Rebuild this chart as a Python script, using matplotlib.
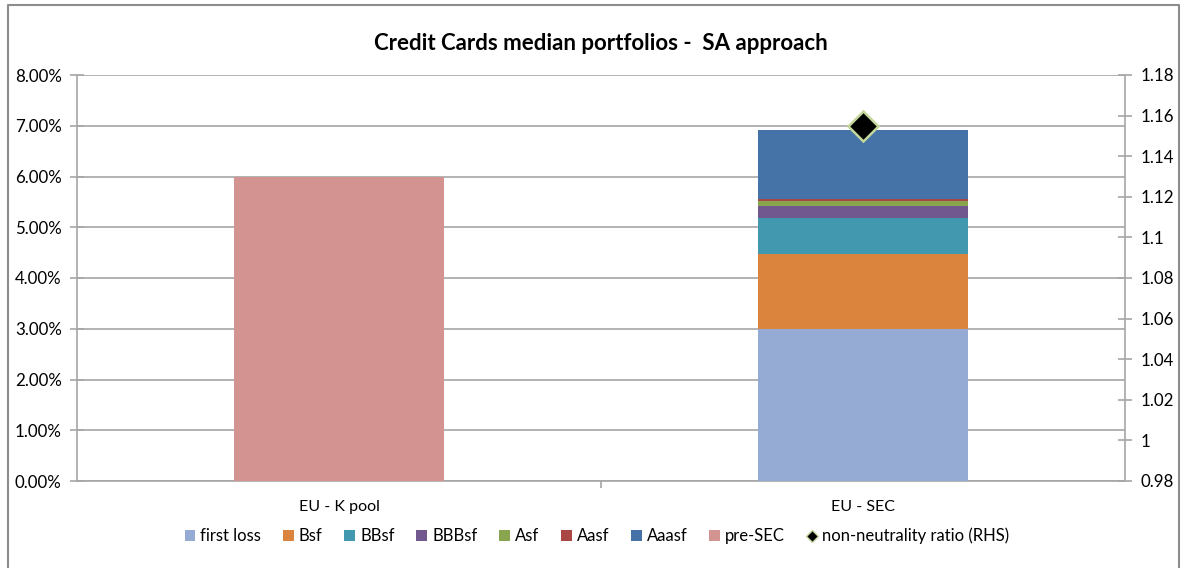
import matplotlib.pyplot as plt
from matplotlib.lines import Line2D
from matplotlib.patches import Patch
from matplotlib.ticker import FuncFormatter, MultipleLocator

plt.rcParams['font.family'] = ['Lato', 'DejaVu Sans']

# data (percent of pool)
categories = ["EU - K pool", "EU - SEC"]
tranches = ["first loss", "Bsf", "BBsf", "BBBsf", "Asf", "Aasf", "Aaasf"]
sec_values = [3.00, 1.47, 0.71, 0.24, 0.10, 0.04, 1.36]
pre_sec = [6.00, 0.0]
ratio = 1.155

colors = ["#95abd3", "#db843d", "#4198af", "#71588f", "#89a54e", "#aa4643", "#4572a7"]
pre_color = "#d29391"
grid_col = "#a6a6a6"

fig = plt.figure(figsize=(11.84, 5.68), dpi=100)
ax = fig.add_axes([77 / 1184, 1 - 481 / 568, 1048 / 1184, 406 / 568])
ax2 = ax.twinx()

x = [0, 1]
width = 0.40

# pre-SEC bar on K pool
ax.bar(x[0], pre_sec[0], width, color=pre_color, zorder=3)

# stacked SEC bar
bottom = 0.0
for name, val, col in zip(tranches, sec_values, colors):
    ax.bar(x[1], val, width, bottom=bottom, color=col, zorder=3)
    bottom += val

ax.set_xlim(-0.5, 1.5)
ax.set_ylim(0, 8)
ax.yaxis.set_major_locator(MultipleLocator(1))
ax.yaxis.set_major_formatter(FuncFormatter(lambda v, p: f"{v:.2f}%"))
ax.yaxis.grid(True, color=grid_col, linewidth=1.2, zorder=0)
ax.set_axisbelow(True)
ax.set_xticks(x)
ax.set_xticklabels(categories)
ax.set_xticks([0.5], minor=True)
ax.tick_params(axis='x', which='major', length=0, pad=14, labelsize=11.5)
ax.tick_params(axis='x', which='minor', length=5, width=1.2, color=grid_col)
ax.tick_params(axis='y', direction='inout', length=10, width=1.2, color=grid_col,
               labelsize=12.2, pad=6)

for side in ["top", "right"]:
    ax.spines[side].set_visible(False)
    ax2.spines[side].set_visible(False)
ax.spines["left"].set_color(grid_col)
ax.spines["bottom"].set_color(grid_col)
ax.spines["left"].set_linewidth(1.2)
ax.spines["bottom"].set_linewidth(1.2)
ax2.spines["left"].set_visible(False)
ax2.spines["bottom"].set_visible(False)
ax2.spines["right"].set_visible(True)
ax2.spines["right"].set_color(grid_col)
ax2.spines["right"].set_linewidth(1.2)

# right hand side ratio
ax2.set_ylim(0.98, 1.18)
ax2.yaxis.set_major_locator(MultipleLocator(0.02))
ax2.yaxis.set_major_formatter(FuncFormatter(lambda v, p: f"{round(v, 2):g}"))
ax2.tick_params(axis='y', direction='inout', length=10, width=1.2, color=grid_col,
                labelsize=12.2, pad=6)
ax2.plot([x[1]], [ratio], marker='D', markersize=15, markerfacecolor='black',
         markeredgecolor='#c3d69b', markeredgewidth=1.8, linestyle='none', zorder=5)

ax.set_title("Credit Cards median portfolios -  SA approach", fontsize=16,
             fontweight='bold', pad=18)

handles = [Patch(facecolor=c, label=n) for n, c in zip(tranches, colors)]
handles.append(Patch(facecolor=pre_color, label="pre-SEC"))
handles.append(Line2D([], [], marker='D', color='none', markerfacecolor='black',
                      markeredgecolor='#c3d69b', markersize=6,
                      label="non-neutrality ratio (RHS)"))
fig.legend(handles=handles, loc='center', bbox_to_anchor=(597 / 1184, 1 - 536 / 568),
           ncol=9, frameon=False, fontsize=12, handlelength=0.65, handleheight=0.65,
           handletextpad=0.3, columnspacing=1.3)

# chart border (Excel chart area)
bx = [8 / 1184, 8 / 1184, 1179 / 1184, 1179 / 1184]
by = [0, 1 - 5 / 568, 1 - 5 / 568, 0]
fig.add_artist(Line2D(bx, by, color="#8c8c8c", linewidth=1.5, transform=fig.transFigure))

fig.savefig("out.png", dpi=100)
